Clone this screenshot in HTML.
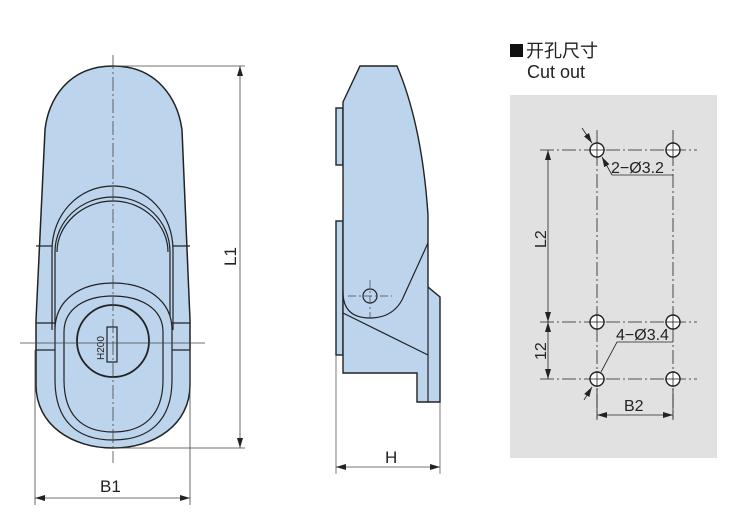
<!DOCTYPE html>
<html><head><meta charset="utf-8"><style>
html,body{margin:0;padding:0;background:#fff;}
svg{display:block;}
text{font-family:"Liberation Sans","Noto Sans CJK SC",sans-serif;fill:#222;}
</style></head><body>
<svg width="750" height="523" viewBox="0 0 750 523" xmlns="http://www.w3.org/2000/svg">
<defs>
<marker id="a" viewBox="0 0 10 6" refX="10" refY="3" markerWidth="10" markerHeight="6" orient="auto-start-reverse" markerUnits="userSpaceOnUse"><path d="M0,0 L10,3 L0,6 Z" fill="#222"/></marker>
</defs>
<!-- FRONT VIEW -->
<g stroke="#222" stroke-width="1.5" fill="#bcd4ec">
<path d="M113,66 C68,66 48,100 45,130 L36,320 L36,385 C36,425 72,448 113,448 C154,448 190,425 190,385 L190,320 L182,130 C178,100 158,66 113,66 Z"/>
</g>
<g stroke="#222" stroke-width="1.2" fill="none">
<path d="M52,330 L52,250 C52,215 78,186 113,186 C148,186 173,215 173,250 L173,330"/>
<path d="M55,330 L55,252 C55,222 80,197 113,197 C146,197 170,222 170,252 L170,330"/>
<path d="M57,252 C57,225 82,201 113,201 C144,201 168,225 168,252"/>
<line x1="36" y1="246" x2="52" y2="246"/><line x1="173" y1="246" x2="190" y2="246"/>
<line x1="36" y1="323" x2="55" y2="323"/><line x1="170" y1="323" x2="190" y2="323"/>
<line x1="36" y1="350" x2="55" y2="350"/><line x1="170" y1="350" x2="190" y2="350"/>
<path d="M55,330 C55,300 80,283 113,283 C146,283 172,300 172,330 L172,380 C172,420 150,440 113,440 C76,440 55,420 55,380 Z" fill="#bcd4ec"/>
<path d="M64,332 C64,308 86,296 113,296 C140,296 163,308 163,332 L163,380 C163,414 145,432 113,432 C81,432 64,414 64,380 Z"/>
<circle cx="113" cy="341" r="36" stroke-width="1.8"/>
<rect x="107" y="327" width="10" height="35"/>
</g>
<text x="0" y="0" font-size="10" transform="translate(104,360) rotate(-90)">H200</text>
<g stroke="#444" stroke-width="0.8" fill="none">
<line x1="113" y1="55" x2="113" y2="463" stroke-dasharray="14,3,2,3"/>
<line x1="20" y1="343" x2="205" y2="343"/>
<line x1="113" y1="66" x2="245" y2="66"/><line x1="113" y1="448" x2="245" y2="448"/>
<line x1="240" y1="66" x2="240" y2="448" marker-start="url(#a)" marker-end="url(#a)"/>
<line x1="35" y1="350" x2="35" y2="505"/><line x1="190" y1="350" x2="190" y2="505"/>
<line x1="35" y1="498" x2="190" y2="498" marker-start="url(#a)" marker-end="url(#a)"/>
</g>
<text x="0" y="0" font-size="17" transform="translate(236,266) rotate(-90)">L1</text>
<text x="100" y="492" font-size="17">B1</text>
<!-- SIDE VIEW -->
<g stroke="#222" stroke-width="1.4" fill="#bcd4ec">
<rect x="336" y="108" width="7" height="57"/>
<rect x="336" y="221" width="7" height="134"/>
<path d="M343,102 L360,66 L397,66 Q422,125 428,215 L428,287 L440,297 L440,402 L417,402 L417,373 L343,373 Z"/>
</g>
<g stroke="#222" stroke-width="1.2" fill="none">
<path d="M428,243 L402,300 Q392,318 370,318 Q343,318 343,292"/>
<line x1="343" y1="313" x2="428" y2="355"/>
<line x1="428" y1="287" x2="428" y2="402"/>
<circle cx="370" cy="296" r="7"/>
</g>
<g stroke="#444" stroke-width="0.7" fill="none">
<line x1="370" y1="280" x2="370" y2="318" stroke-dasharray="8,3,2,3"/>
<line x1="348" y1="296" x2="392" y2="296" stroke-dasharray="8,3,2,3"/>
<line x1="336" y1="355" x2="336" y2="474"/><line x1="440" y1="402" x2="440" y2="474"/>
<line x1="336" y1="467" x2="440" y2="467" marker-start="url(#a)" marker-end="url(#a)"/>
</g>
<text x="385" y="463" font-size="17">H</text>
<!-- CUTOUT -->
<rect x="510" y="44" width="13" height="13" fill="#111"/>
<text x="526" y="57" font-size="18">开孔尺寸</text>
<text x="527" y="78" font-size="18">Cut out</text>
<rect x="510" y="95" width="207" height="363" fill="#e1e1e1"/>
<g stroke="#222" stroke-width="0.8" fill="none">
<line x1="597" y1="130" x2="597" y2="420" stroke-dasharray="14,3,2,3"/>
<line x1="673" y1="130" x2="673" y2="420" stroke-dasharray="14,3,2,3"/>
<line x1="540" y1="150" x2="697" y2="150" stroke-dasharray="14,3,2,3"/>
<line x1="540" y1="322" x2="697" y2="322" stroke-dasharray="14,3,2,3"/>
<line x1="540" y1="379" x2="697" y2="379" stroke-dasharray="14,3,2,3"/>
<line x1="548" y1="150" x2="548" y2="322" marker-start="url(#a)" marker-end="url(#a)"/>
<line x1="548" y1="322" x2="548" y2="379" marker-start="url(#a)" marker-end="url(#a)"/>
<line x1="597" y1="388" x2="597" y2="418"/><line x1="673" y1="388" x2="673" y2="418"/>
<line x1="597" y1="415" x2="673" y2="415" marker-start="url(#a)" marker-end="url(#a)"/>
<line x1="582" y1="128" x2="592" y2="143" marker-end="url(#a)"/>
<line x1="612" y1="175" x2="602" y2="157" marker-end="url(#a)"/>
<polyline points="612,175 673,175"/>
<polyline points="673,342 617,342 601,372"/>
<line x1="592" y1="387" x2="584" y2="400" marker-start="url(#a)"/>
</g>
<g stroke="#222" stroke-width="1.4" fill="#fff">
<circle cx="597" cy="150" r="7"/><circle cx="673" cy="150" r="7"/>
<circle cx="597" cy="322" r="7"/><circle cx="673" cy="322" r="7"/>
<circle cx="597" cy="379" r="7"/><circle cx="673" cy="379" r="7"/>
</g>
<g stroke="#222" stroke-width="0.8">
<line x1="589" y1="150" x2="605" y2="150"/><line x1="597" y1="142" x2="597" y2="158"/>
<line x1="665" y1="150" x2="681" y2="150"/><line x1="673" y1="142" x2="673" y2="158"/>
<line x1="589" y1="322" x2="605" y2="322"/><line x1="597" y1="314" x2="597" y2="330"/>
<line x1="665" y1="322" x2="681" y2="322"/><line x1="673" y1="314" x2="673" y2="330"/>
<line x1="589" y1="379" x2="605" y2="379"/><line x1="597" y1="371" x2="597" y2="387"/>
<line x1="665" y1="379" x2="681" y2="379"/><line x1="673" y1="371" x2="673" y2="387"/>
</g>
<text x="611" y="173" font-size="16">2−Ø3.2</text>
<text x="616" y="340" font-size="16">4−Ø3.4</text>
<text x="0" y="0" font-size="16" transform="translate(546,248) rotate(-90)">L2</text>
<text x="0" y="0" font-size="16" transform="translate(546,360) rotate(-90)">12</text>
<text x="624" y="411" font-size="16">B2</text>
</svg>
</body></html>
